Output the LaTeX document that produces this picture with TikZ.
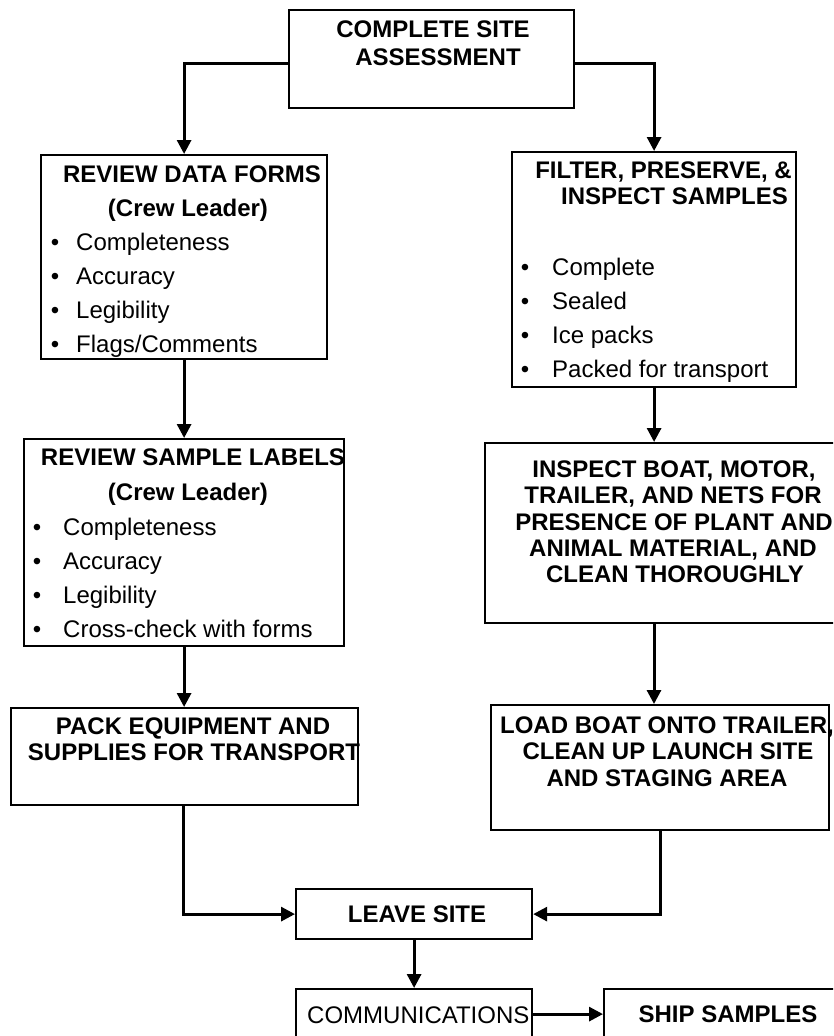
\documentclass[tikz,border=0pt]{standalone}
\usepackage{fontspec}
\setmainfont{Liberation Sans}
\usetikzlibrary{arrows.meta}
\begin{document}
\begin{tikzpicture}[x=1pt,y=-1pt,
  box/.style={draw, line width=2.2pt, anchor=north west, inner sep=0pt},
  conn/.style={line width=3pt, -{Triangle[length=14pt,width=14pt]}},
  ttl/.style={font=\fontsize{24}{26}\selectfont\bfseries, anchor=base, inner sep=0pt},
  ttlr/.style={ttl, anchor=base east},
  itm/.style={font=\fontsize{24}{26}\selectfont, anchor=base west, inner sep=0pt},
  dot/.style={font=\fontsize{24}{26}\selectfont, anchor=base, inner sep=0pt},
]
\useasboundingbox (0,0) rectangle (833,1036);
\fill[white] (0,0) rectangle (833,1036);
\clip (0,0) rectangle (833,1036);

% boxes
\node[box, minimum width=285pt, minimum height=98pt]  (top)   at (288,9)   {};
\node[box, minimum width=286pt, minimum height=204pt] (rdf)   at (40,154)  {};
\node[box, minimum width=320pt, minimum height=207pt] (rsl)   at (23,438)  {};
\node[box, minimum width=347pt, minimum height=97pt]  (pack)  at (10,707)  {};
\node[box, minimum width=284pt, minimum height=235pt] (fps)   at (511,151) {};
\node[box, minimum width=380pt, minimum height=180pt] (boat)  at (484,442) {};
\node[box, minimum width=338pt, minimum height=125pt] (load)  at (490,704) {};
\node[box, minimum width=236pt, minimum height=50pt]  (leave) at (295,888) {};
\node[box, minimum width=236pt, minimum height=50pt]  (comms) at (295,988) {};
\node[box, minimum width=280pt, minimum height=50pt]  (ship)  at (603,988) {};

% columns of the vertical connectors
\coordinate (lcol) at (183,0);
\coordinate (rcol) at (654,0);

% connectors
\draw[conn] ([yshift=-4pt]top.west) -| (rdf.north);
\draw[conn] ([yshift=-4pt]top.east) -| (fps.north);
\draw[conn] (rdf.south) -- (rsl.north);
\draw[conn] (rsl.south) -- (pack.north -| rsl.south);
\draw[conn] (pack.south -| lcol) |- (leave.west);
\draw[conn] (fps.south) -- (boat.north -| fps.south);
\draw[conn] (boat.south -| rcol) -- (load.north -| rcol);
\draw[conn] (load.south) |- (leave.east);
\draw[conn] (leave.south) -- (comms.north);
\draw[conn] (comms.east) -- (ship.west);

% top box
\node[ttl] (t1) at (433,37) {COMPLETE SITE};
\node[ttl] (t2) at (438,65) {ASSESSMENT};

% review data forms
\node[ttl] (a1) at (192,182) {REVIEW DATA FORMS};
\node[ttl] (a2) at (188,216) {(Crew Leader)};
\foreach \y/\t [count=\i] in {250/Completeness,284/Accuracy,318/Legibility,352/Flags\slash Comments}{
  \node[dot] (ab\i) at (55,\y) {•};
  \node[itm] (ai\i) at (76,\y) {\t};
}

% review sample labels
\node[ttl] (b1) at (193,465) {REVIEW SAMPLE LABELS};
\node[ttl] (b2) at (188,500) {(Crew Leader)};
\foreach \y/\t [count=\i] in {535/Completeness,569/Accuracy,603/Legibility,637/Cross-check with forms}{
  \node[dot] (bb\i) at (37,\y) {•};
  \node[itm] (bi\i) at (63,\y) {\t};
}

% pack equipment
\node[ttl] (c1) at (193,734) {PACK EQUIPMENT AND};
\node[ttl] (c2) at (194,760) {SUPPLIES FOR TRANSPORT};

% filter, preserve, inspect
\node[ttlr] (d1) at (792,178) {FILTER, PRESERVE, \&};
\node[ttlr] (d2) at (788,204) {INSPECT SAMPLES};
\foreach \y/\t [count=\i] in {275/Complete,309/Sealed,343/Ice packs,377/Packed for transport}{
  \node[dot] (db\i) at (525,\y) {•};
  \node[itm] (di\i) at (552,\y) {\t};
}

% inspect boat
\node[ttl] (e1) at (674,477) {INSPECT BOAT, MOTOR,};
\node[ttl] (e2) at (673,503) {TRAILER, AND NETS FOR};
\node[ttl] (e3) at (674,530) {PRESENCE OF PLANT AND};
\node[ttl] (e4) at (673,556) {ANIMAL MATERIAL, AND};
\node[ttl] (e5) at (675,582) {CLEAN THOROUGHLY};

% load boat
\node[ttl] (f1) at (667,733) {LOAD BOAT ONTO TRAILER,};
\node[ttl] (f2) at (668,759) {CLEAN UP LAUNCH SITE};
\node[ttl] (f3) at (667,786) {AND STAGING AREA};

% bottom row
\node[ttl] (g1) at (417,922) {LEAVE SITE};
\node[itm] (h1) at (307,1023) {COMMUNICATIONS};
\node[ttl] (k1) at (728,1022) {SHIP SAMPLES};
\end{tikzpicture}
\end{document}
